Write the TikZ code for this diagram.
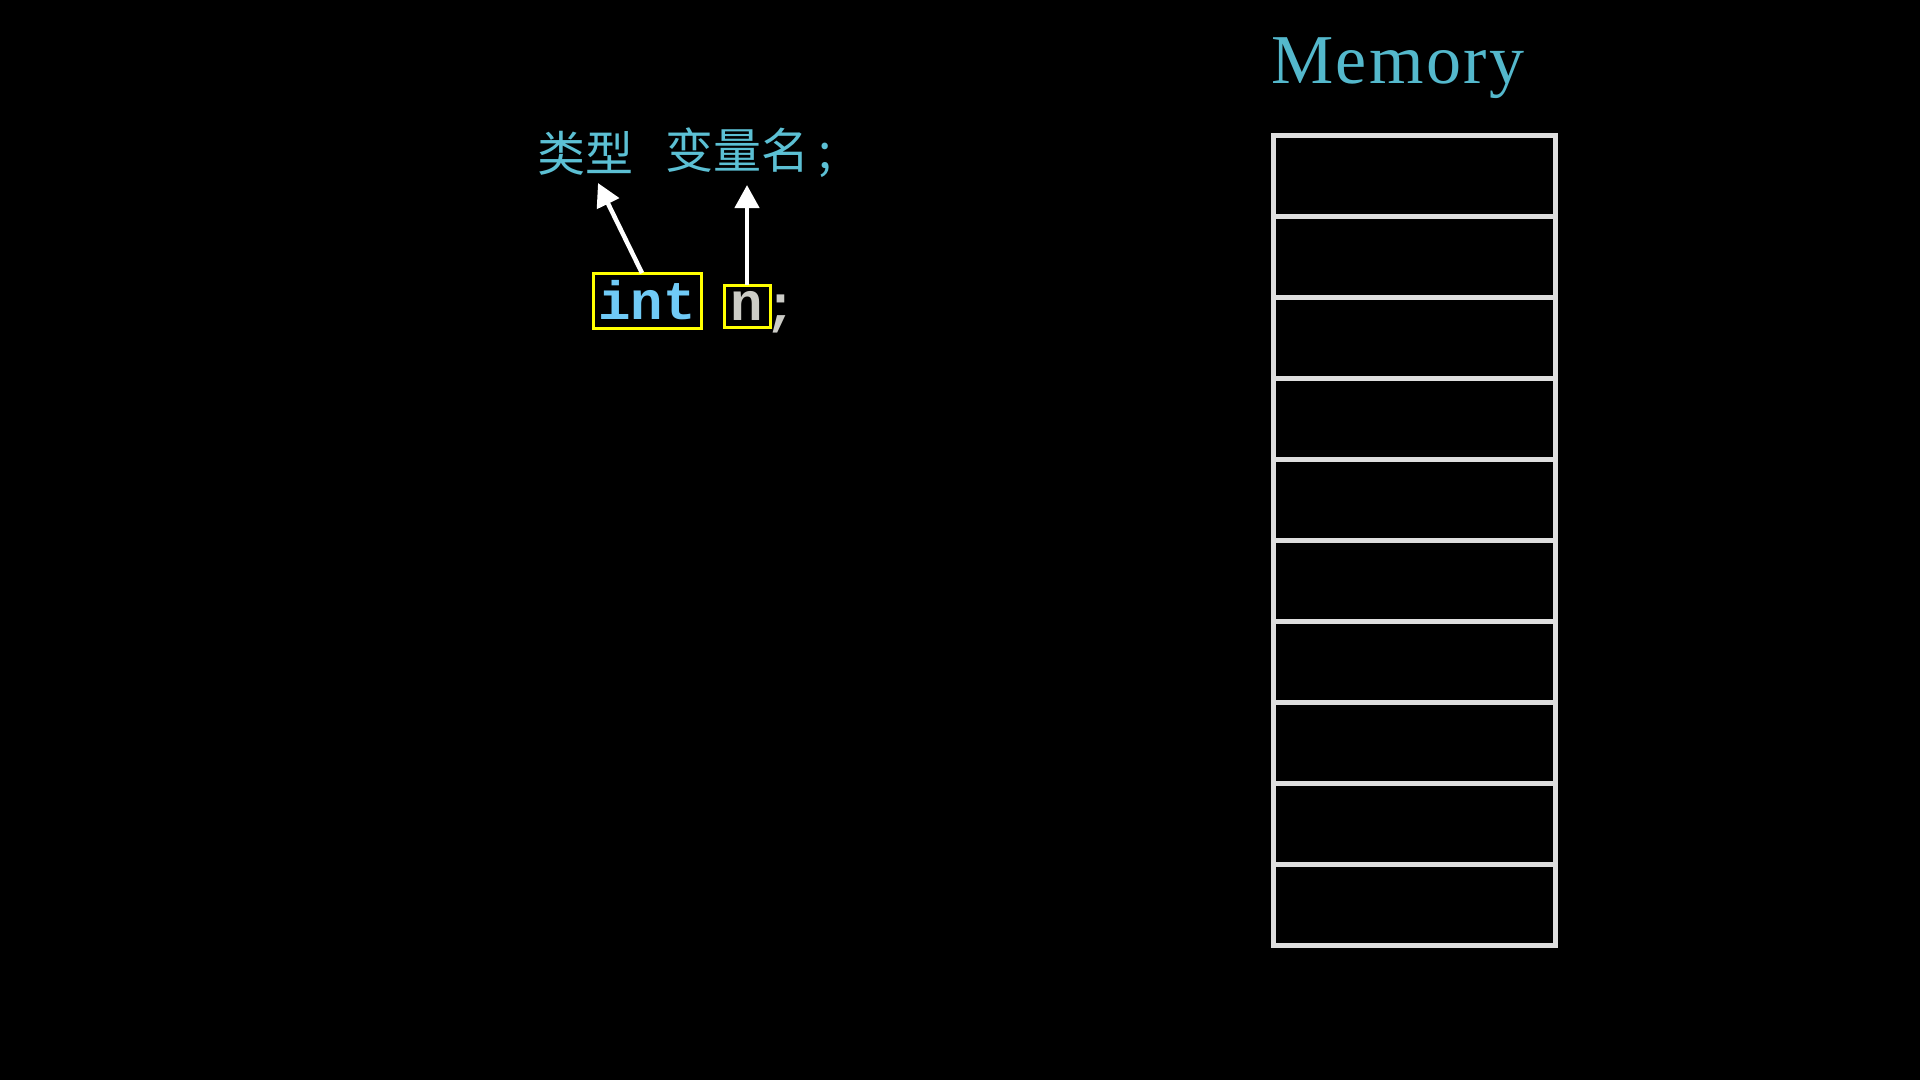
\documentclass[tikz,border=0pt]{standalone}
\usepackage{fontspec}
\setmainfont{Liberation Serif}
\setmonofont{Liberation Mono}
\newfontfamily\cjk{Noto Sans CJK SC}
\newfontfamily\memfont{Liberation Serif}[LetterSpace=3.5]
\usetikzlibrary{arrows.meta}
\definecolor{memteal}{RGB}{84,184,204}
\definecolor{cjkcyan}{RGB}{92,192,212}
\definecolor{intblue}{RGB}{112,202,246}
\definecolor{ngray}{RGB}{204,204,198}
\definecolor{gridgray}{RGB}{222,222,222}
\definecolor{boxyellow}{RGB}{255,255,0}
\tikzset{
  cell/.style={draw=gridgray, line width=5pt, minimum width=282pt, minimum height=81pt, inner sep=0pt, outer sep=0pt},
  codebox/.style={draw=boxyellow, line width=3pt, inner sep=0pt, outer sep=0pt},
  pointer/.style={draw=white, line width=4.5pt, -{Triangle[width=24pt,length=23pt]}},
  cjklabel/.style={text=cjkcyan, inner sep=0pt, font=\cjk\fontsize{48}{56}\selectfont}
}
\begin{document}
\begin{tikzpicture}[x=1pt,y=-1pt]
\fill[black] (0,0) rectangle (1920,1080);
\useasboundingbox (0,0) rectangle (1920,1080);
% Memory title
\node[anchor=base west, inner sep=0pt, text=memteal, font=\memfont\fontsize{70}{80}\selectfont] (memtitle) at (1271,83) {Memory};
% memory cells
\foreach \i in {1,...,10} {
  \node[cell] (c\i) at (1414, {135+81*\i-40.5}) {};
}
% Chinese labels
\node[cjklabel, anchor=center] (typ) at (585,153) {类型};
\node[cjklabel, anchor=west] (var) at (665,153) {变量名\hspace{9pt};};
% code
\node[codebox, minimum width=108pt, minimum height=55pt, text=intblue, font=\ttfamily\bfseries\fontsize{54}{60}\selectfont] (int) at (647,300.5) {int};
\node[codebox, minimum width=46pt, minimum height=42pt, text=ngray, font=\ttfamily\bfseries\fontsize{54}{60}\selectfont] (n) at (747,306) {n};
\node[anchor=base west, inner sep=0pt, text=ngray, font=\ttfamily\bfseries\fontsize{54}{60}\selectfont] (semi) at (764,323) {;};
% arrow tips
\coordinate (tipA) at (598,183);
\coordinate (tipB) at (747,185);
\draw[pointer] ([xshift=-5pt]int.north) -- (tipA);
\draw[pointer] (n.north) -- (tipB);
\end{tikzpicture}
\end{document}
